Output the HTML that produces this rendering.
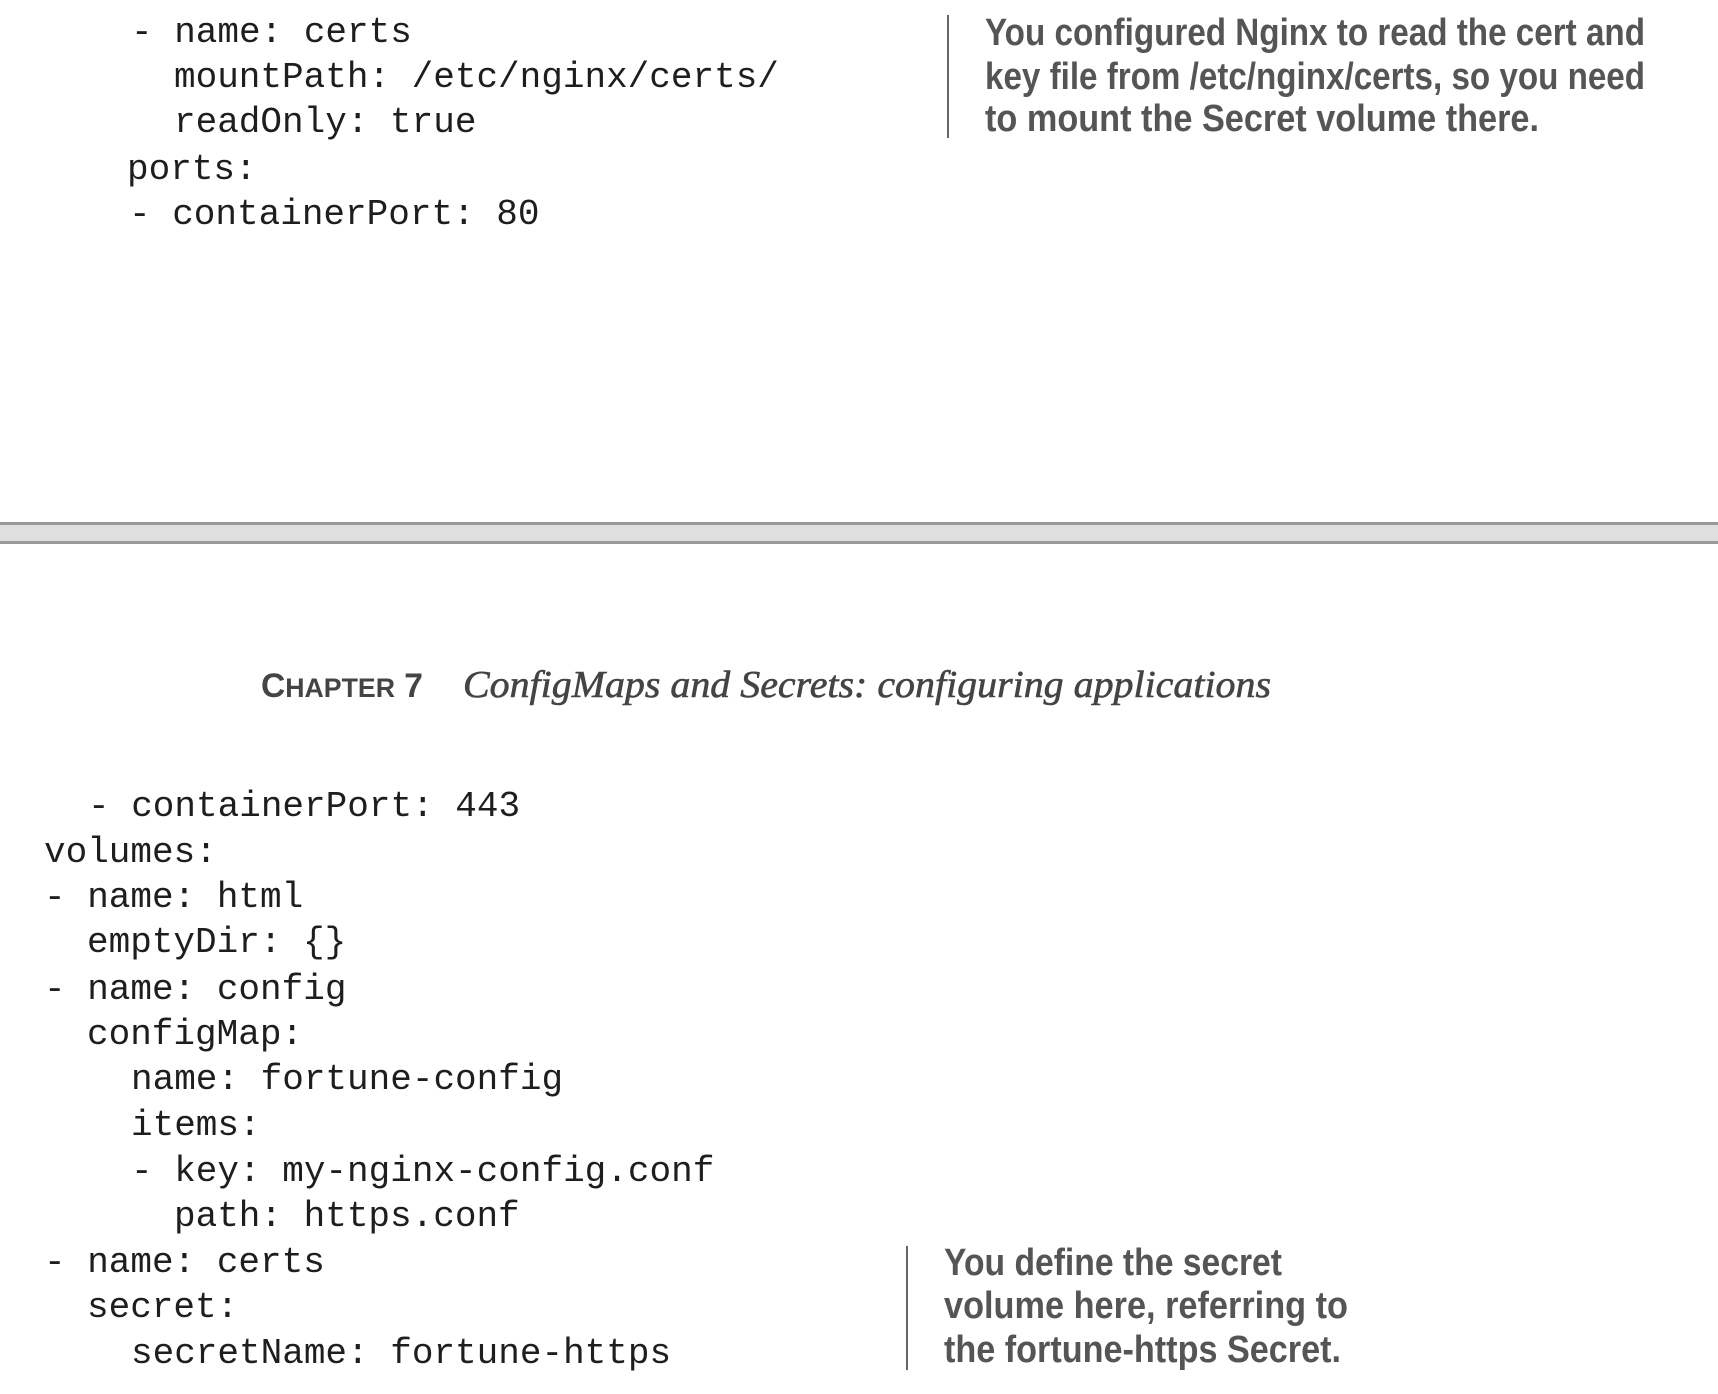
<!DOCTYPE html>
<html><head><meta charset="utf-8"><style>
html,body{margin:0;padding:0;background:#fff;width:1718px;height:1394px;overflow:hidden}
svg{display:block}
.c{font-family:"Liberation Mono",monospace;font-size:36px;fill:#1e1e1e}
.a{font-family:"Liberation Sans Narrow","Liberation Sans",sans-serif;font-weight:bold;font-size:38px;fill:#555}
</style></head><body>
<svg width="1718" height="1394" viewBox="0 0 1718 1394" xmlns="http://www.w3.org/2000/svg">
<rect width="1718" height="1394" fill="#fff"/>
<g class="c" xml:space="preserve">
<text x="131" y="42">- name: certs</text>
<text x="174" y="87">mountPath: /etc/nginx/certs/</text>
<text x="174" y="132">readOnly: true</text>
<text x="127" y="179">ports:</text>
<text x="129" y="224">- containerPort: 80</text>

<text x="88" y="816">- containerPort: 443</text>
<text x="44" y="862">volumes:</text>
<text x="44" y="907">- name: html</text>
<text x="87" y="952">emptyDir: {}</text>
<text x="44" y="999">- name: config</text>
<text x="87" y="1044">configMap:</text>
<text x="131" y="1089">name: fortune-config</text>
<text x="131" y="1135">items:</text>
<text x="131" y="1181">- key: my-nginx-config.conf</text>
<text x="174" y="1226">path: https.conf</text>
<text x="44" y="1272">- name: certs</text>
<text x="87" y="1317">secret:</text>
<text x="131" y="1363">secretName: fortune-https</text>
</g>
<line x1="948" y1="15" x2="948" y2="138" stroke="#333" stroke-width="1.5"/>
<g class="a">
<text x="985" y="45" textLength="660" lengthAdjust="spacingAndGlyphs">You configured Nginx to read the cert and</text>
<text x="985" y="89" textLength="660" lengthAdjust="spacingAndGlyphs">key file from /etc/nginx/certs, so you need</text>
<text x="985" y="131" textLength="554" lengthAdjust="spacingAndGlyphs">to mount the Secret volume there.</text>
</g>
<rect x="0" y="523" width="1718" height="20" fill="#e0e0e0"/>
<rect x="0" y="522" width="1718" height="3" fill="#999"/>
<rect x="0" y="541" width="1718" height="3" fill="#999"/>
<text x="261" y="697" font-family="Liberation Sans,sans-serif" font-weight="bold" fill="#444" textLength="162" lengthAdjust="spacingAndGlyphs"><tspan font-size="34">C</tspan><tspan font-size="27">HAPTER</tspan><tspan font-size="34"> 7</tspan></text>
<text x="463" y="697" font-family="Liberation Serif,serif" font-style="italic" font-size="38" fill="#444" stroke="#444" stroke-width="0.6" textLength="808" lengthAdjust="spacingAndGlyphs">ConfigMaps and Secrets: configuring applications</text>
<line x1="907" y1="1246" x2="907" y2="1370" stroke="#333" stroke-width="1.5"/>
<g class="a">
<text x="944" y="1275" textLength="338" lengthAdjust="spacingAndGlyphs">You define the secret</text>
<text x="944" y="1318" textLength="404" lengthAdjust="spacingAndGlyphs">volume here, referring to</text>
<text x="944" y="1362" textLength="397" lengthAdjust="spacingAndGlyphs">the fortune-https Secret.</text>
</g>
</svg>
</body></html>
